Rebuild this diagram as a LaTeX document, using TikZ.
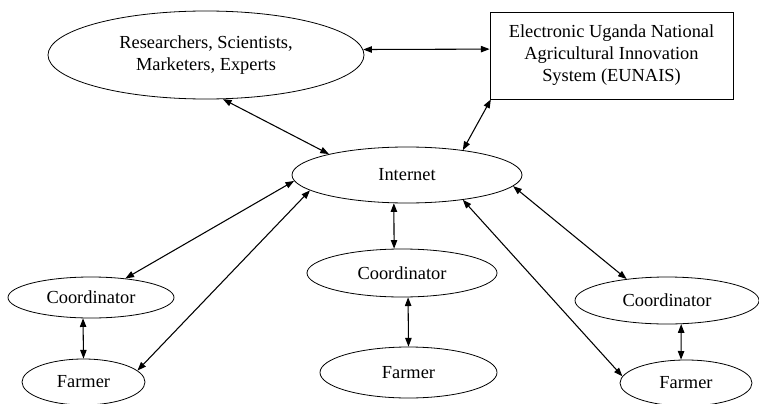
\documentclass[tikz,border=0pt]{standalone}
\usepackage{fontspec}
\setmainfont{Liberation Serif}
\usetikzlibrary{shapes.geometric,arrows.meta}
\tikzset{
  ell/.style={draw, ellipse, inner sep=0pt, line width=0.6pt, align=center},
  boxnode/.style={draw, rectangle, inner sep=0pt, line width=0.6pt, align=center},
  link/.style={{Triangle[length=6.5pt,width=4.8pt]}-{Triangle[length=6.5pt,width=4.8pt]}, line width=0.8pt},
}
\begin{document}
\begin{tikzpicture}[x=0.75pt,y=-0.75pt, font=\fontsize{13.8}{16.5}\selectfont]
\useasboundingbox (0,0) rectangle (759,403);
\clip (0,0) rectangle (759,403);
\node[ell, minimum width=237pt, minimum height=66pt] (res) at (206,55) {Researchers, Scientists,\\Marketers, Experts};
\node[boxnode, minimum width=182.25pt, minimum height=65.25pt] (eun) at (611.5,55.5) {Electronic Uganda National\\Agricultural Innovation\\System (EUNAIS)};
\node[ell, minimum width=172.5pt, minimum height=42pt] (int) at (407,175) {Internet};
\node[ell, minimum width=124.5pt, minimum height=30.75pt] (c1) at (91,297.5) {Coordinator};
\node[ell, minimum width=92.25pt, minimum height=34.5pt] (f1) at (83.5,382) {Farmer};
\node[ell, minimum width=142.5pt, minimum height=36pt] (c2) at (402,273) {Coordinator};
\node[ell, minimum width=132.75pt, minimum height=38.25pt] (f2) at (408.5,372.5) {Farmer};
\node[ell, minimum width=138pt, minimum height=35.25pt] (c3) at (667,300.5) {Coordinator};
\node[ell, minimum width=99pt, minimum height=34.5pt] (f3) at (686,383) {Farmer};

\draw[link] (res.-69) -- (int.165);
\draw[link] (res.2) -- (eun.177);
\draw[link] (eun.200) -- (int.24);
\draw[link] (int.183) -- (c1.29);
\draw[link] (int.189) -- (f1.12);
\draw[link] (int.-115) -- (c2.108);
\draw[link] (c2.-76) -- (f2.north);
\draw[link] (int.-24) -- (f3.174);
\draw[link] (int.-6) -- (c3.152);
\draw[link] (c1.-111) -- (f1.north);
\draw[link] (c3.-59) -- (f3.102);
\end{tikzpicture}
\end{document}
